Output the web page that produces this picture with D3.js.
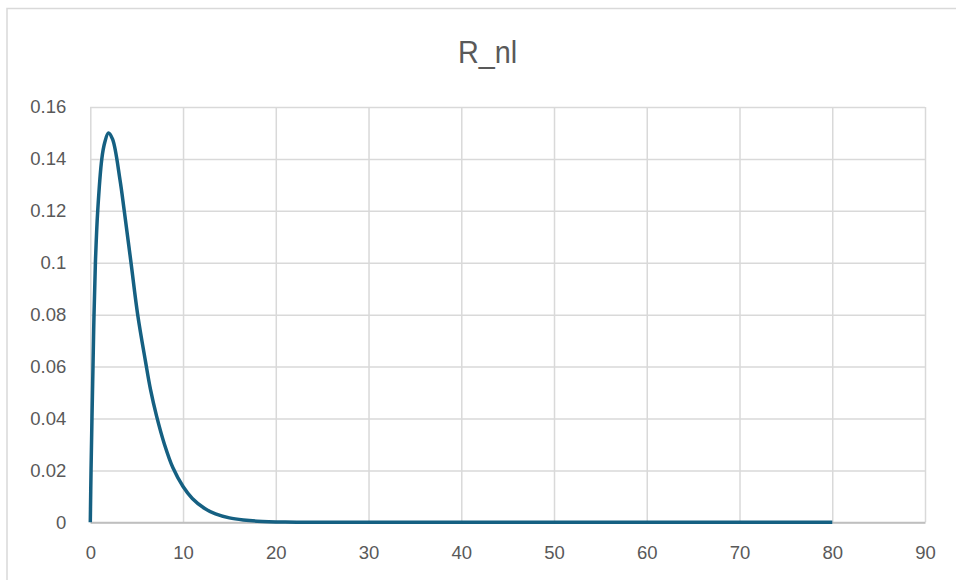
<!DOCTYPE html>
<html>
<head>
<meta charset="utf-8">
<script src="https://cdn.jsdelivr.net/npm/d3@7"></script>
<style>
  html, body { margin: 0; padding: 0; background: #ffffff; }
  svg { display: block; }
</style>
</head>
<body>
<div id="chart"></div>
<script>
// ---- data ----
const title = "R_nl";
const xValues = [0, 0.08, 0.18, 0.29, 0.40, 0.55, 0.80, 1.24, 1.55, 1.95, 2.4, 3.2, 3.66, 4.39, 5.11, 5.95, 6.5, 7.14, 8.0, 8.91, 10, 11, 12.3, 13.5, 15, 16.5, 18, 21, 25, 30, 40, 50, 60, 70, 80];
const yValues = [0, 0.02, 0.04, 0.06, 0.08, 0.10, 0.12, 0.14, 0.1462, 0.150, 0.1476, 0.132, 0.12, 0.10, 0.08, 0.062, 0.051, 0.041, 0.030, 0.021, 0.0138, 0.0092, 0.0054, 0.0032, 0.0017, 0.0009, 0.00045, 0.00012, 0.00002, 0, 0, 0, 0, 0, 0];
const xTicks = [0, 10, 20, 30, 40, 50, 60, 70, 80, 90];
const yTicks = [0, 0.02, 0.04, 0.06, 0.08, 0.1, 0.12, 0.14, 0.16];

// ---- layout ----
const W = 956, H = 580;
const plot = { left: 90.3, right: 925, top: 107, bottom: 522.3 };

const svg = d3.select("#chart").append("svg")
  .attr("width", W).attr("height", H);

svg.append("rect").attr("width", W).attr("height", H).attr("fill", "#ffffff");

// outer chart border (partly cropped)
svg.append("rect")
  .attr("x", 7).attr("y", 8.5).attr("width", 1200).attr("height", 1200)
  .attr("fill", "none").attr("stroke", "#d9d9d9").attr("stroke-width", 1.5);

const x = d3.scaleLinear().domain([0, 90]).range([plot.left, plot.right]);
const y = d3.scaleLinear().domain([0, 0.16]).range([plot.bottom, plot.top]);

// horizontal gridlines
svg.append("g").attr("transform", `translate(${plot.left},0)`)
  .call(d3.axisLeft(y).tickValues(yTicks).tickSize(-(plot.right - plot.left)).tickFormat(""))
  .call(g => g.select(".domain").remove())
  .call(g => g.selectAll("line").attr("stroke", "#d9d9d9").attr("stroke-width", 1.5));

// vertical gridlines
svg.append("g").attr("transform", `translate(0,${plot.bottom})`)
  .call(d3.axisBottom(x).tickValues(xTicks).tickSize(-(plot.bottom - plot.top)).tickFormat(""))
  .call(g => g.select(".domain").remove())
  .call(g => g.selectAll("line").attr("stroke", "#d9d9d9").attr("stroke-width", 1.5));

// bottom axis line
svg.append("g").attr("transform", `translate(0,${plot.bottom})`)
  .call(d3.axisBottom(x).tickValues([]).tickSizeOuter(0))
  .call(g => g.select(".domain").attr("stroke", "#bfbfbf").attr("stroke-width", 2));

// y tick labels
svg.append("g").attr("transform", `translate(${plot.left - 24},0)`)
  .call(d3.axisLeft(y).tickValues(yTicks).tickSize(0).tickPadding(0)
    .tickFormat(d => d === 0 ? "0" : String(+d.toFixed(2))))
  .call(g => g.select(".domain").remove())
  .call(g => g.selectAll("text")
    .attr("fill", "#595959")
    .attr("font-family", "'Liberation Sans', Arial, sans-serif")
    .attr("font-size", "18.5px"));

// x tick labels
svg.append("g").attr("transform", `translate(0,${plot.bottom + 24})`)
  .call(d3.axisBottom(x).tickValues(xTicks).tickSize(0).tickPadding(0).tickFormat(d3.format("d")))
  .call(g => g.select(".domain").remove())
  .call(g => g.selectAll("text")
    .attr("fill", "#595959")
    .attr("font-family", "'Liberation Sans', Arial, sans-serif")
    .attr("font-size", "18.5px"));

// series line
const pts = xValues.map((v, i) => [v, yValues[i]]);
const line = d3.line()
  .x(d => x(d[0]))
  .y(d => y(d[1]))
  .curve(d3.curveCatmullRom.alpha(0.5));

svg.append("path")
  .datum(pts)
  .attr("d", line)
  .attr("fill", "none")
  .attr("stroke", "#156082")
  .attr("stroke-width", 3.5)
  .attr("stroke-linejoin", "round")
  .attr("stroke-linecap", "butt");

// title (narrow face approximated by horizontal scaling)
svg.append("text")
  .attr("transform", "translate(487.5,63) scale(0.9,1)")
  .attr("text-anchor", "middle")
  .attr("fill", "#595959")
  .attr("font-family", "'Liberation Sans', Arial, sans-serif")
  .attr("font-size", "32px")
  .text(title);
</script>
</body>
</html>
